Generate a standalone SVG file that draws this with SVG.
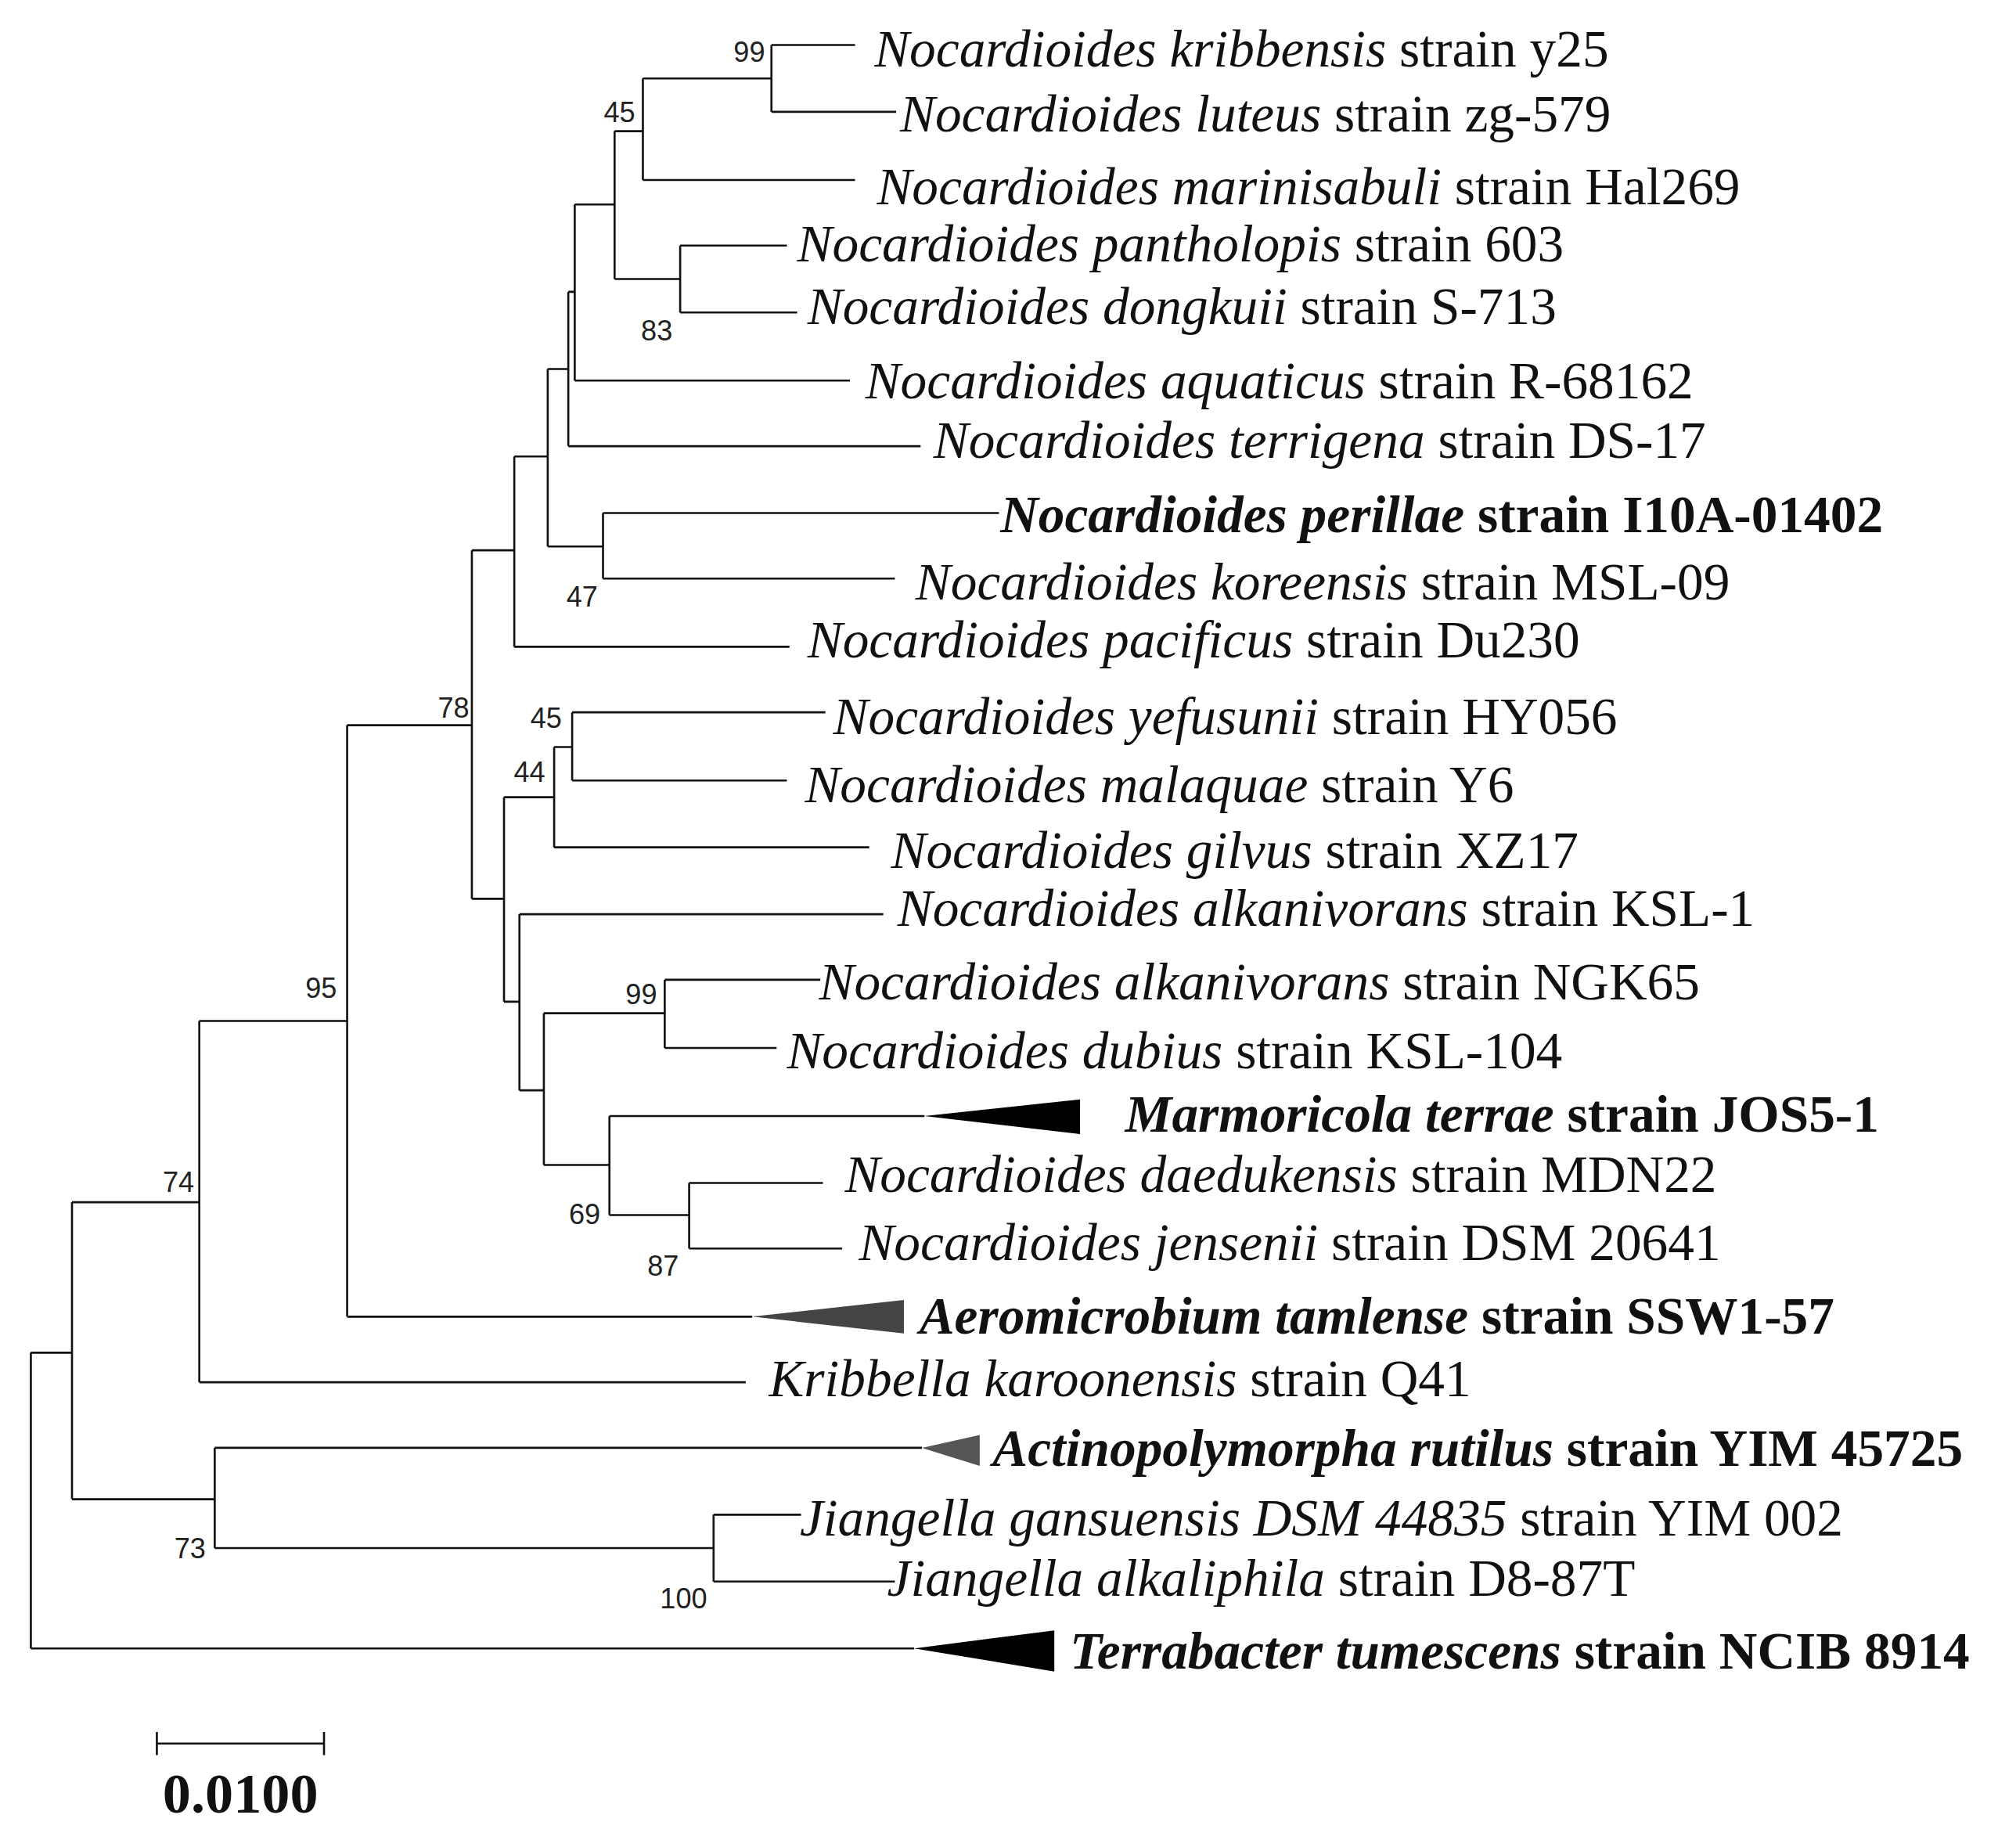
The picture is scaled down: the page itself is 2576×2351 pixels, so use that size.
<svg xmlns="http://www.w3.org/2000/svg" width="2576" height="2351" viewBox="0 0 2576 2351">
<style>
.e{fill:none;stroke:#111;stroke-width:1.6}
.t{font-family:"Liberation Serif",serif;font-size:41px;fill:#111}
.b{font-weight:bold}
.i{font-style:italic}
.bs{font-family:"Liberation Sans",Arial,sans-serif;font-size:22px;fill:#222}
</style>
<rect width="2576" height="2351" fill="#fff"/>
<g transform="scale(1.6429)">
<g id="edges">
<path class="e" d="M600 35V87M600 35H665M600 87H697"/>
<path class="e" d="M500 61V140M500 61H600M500 140H665"/>
<path class="e" d="M529 191V243M529 191H612M529 243H620"/>
<path class="e" d="M478 102V217M478 102H500M478 217H529"/>
<path class="e" d="M447 159V296M447 159H478M447 296H661"/>
<path class="e" d="M442 227V347M442 227H447M442 347H716"/>
<path class="e" d="M469 399V450M469 399H777M469 450H696"/>
<path class="e" d="M426 287V425M426 287H442M426 425H469"/>
<path class="e" d="M400 355V503M400 355H426M400 503H614"/>
<path class="e" d="M445 554V607M445 554H642M445 607H612"/>
<path class="e" d="M431 581V659M431 581H445M431 659H676"/>
<path class="e" d="M517 762V815M517 762H638M517 815H604"/>
<path class="e" d="M536 920V971M536 920H640M536 971H655"/>
<path class="e" d="M474 868V945M474 868H719M474 945H536"/>
<path class="e" d="M423 788V906M423 788H517M423 906H474"/>
<path class="e" d="M404 711V848M404 711H687M404 848H423"/>
<path class="e" d="M392 620V779M392 620H431M392 779H404"/>
<path class="e" d="M367 428V699M367 428H400M367 699H392"/>
<path class="e" d="M270 564V1024M270 564H367M270 1024H585"/>
<path class="e" d="M155 794V1075M155 794H270M155 1075H580"/>
<path class="e" d="M555 1178V1230M555 1178H623M555 1230H696"/>
<path class="e" d="M167 1126V1204M167 1126H717M167 1204H555"/>
<path class="e" d="M56 935V1166M56 935H155M56 1166H167"/>
<path class="e" d="M24 1052V1282M24 1052H56M24 1282H711"/>
<polygon points="719,868 840,855 840,882" fill="#000"/>
<polygon points="585,1024 703,1011 703,1037" fill="#444"/>
<polygon points="717,1126 762,1116 762,1140" fill="#555"/>
<polygon points="711,1282 820,1268 820,1300" fill="#000"/>
<path class="e" d="M122 1356H252M122 1347V1365M252 1347V1365"/>
</g>
<g id="support">
<text class="bs" x="595" y="48" text-anchor="end">99</text>
<text class="bs" x="494" y="95" text-anchor="end">45</text>
<text class="bs" x="523" y="265" text-anchor="end">83</text>
<text class="bs" x="465" y="472" text-anchor="end">47</text>
<text class="bs" x="365" y="558" text-anchor="end">78</text>
<text class="bs" x="437" y="566" text-anchor="end">45</text>
<text class="bs" x="424" y="608" text-anchor="end">44</text>
<text class="bs" x="262" y="776" text-anchor="end">95</text>
<text class="bs" x="511" y="781" text-anchor="end">99</text>
<text class="bs" x="467" y="952" text-anchor="end">69</text>
<text class="bs" x="528" y="992" text-anchor="end">87</text>
<text class="bs" x="151" y="927" text-anchor="end">74</text>
<text class="bs" x="160" y="1212" text-anchor="end">73</text>
<text class="bs" x="550" y="1251" text-anchor="end">100</text>
</g>
<g id="leaves">
<text class="t" x="680" y="52"><tspan class="i">Nocardioides kribbensis</tspan> strain y25</text>
<text class="t" x="700" y="102"><tspan class="i">Nocardioides luteus</tspan> strain zg-579</text>
<text class="t" x="682" y="159"><tspan class="i">Nocardioides marinisabuli</tspan> strain Hal269</text>
<text class="t" x="620" y="203"><tspan class="i">Nocardioides pantholopis</tspan> strain 603</text>
<text class="t" x="628" y="252"><tspan class="i">Nocardioides dongkuii</tspan> strain S-713</text>
<text class="t" x="673" y="310"><tspan class="i">Nocardioides aquaticus</tspan> strain R-68162</text>
<text class="t" x="726" y="356"><tspan class="i">Nocardioides terrigena</tspan> strain DS-17</text>
<text class="t b" x="778" y="414"><tspan class="i">Nocardioides perillae</tspan> strain I10A-01402</text>
<text class="t" x="712" y="466"><tspan class="i">Nocardioides koreensis</tspan> strain MSL-09</text>
<text class="t" x="628" y="511"><tspan class="i">Nocardioides pacificus</tspan> strain Du230</text>
<text class="t" x="648" y="571"><tspan class="i">Nocardioides yefusunii</tspan>  strain HY056</text>
<text class="t" x="626" y="624"><tspan class="i">Nocardioides malaquae</tspan>  strain Y6</text>
<text class="t" x="693" y="675"><tspan class="i">Nocardioides gilvus</tspan>  strain XZ17</text>
<text class="t" x="698" y="720"><tspan class="i">Nocardioides alkanivorans</tspan>  strain KSL-1</text>
<text class="t" x="637" y="777"><tspan class="i">Nocardioides alkanivorans</tspan>  strain NGK65</text>
<text class="t" x="612" y="831"><tspan class="i">Nocardioides dubius</tspan> strain KSL-104</text>
<text class="t b" x="875" y="880"><tspan class="i">Marmoricola terrae</tspan> strain JOS5-1</text>
<text class="t" x="657" y="927"><tspan class="i">Nocardioides daedukensis</tspan> strain MDN22</text>
<text class="t" x="668" y="980"><tspan class="i">Nocardioides jensenii</tspan> strain DSM 20641</text>
<text class="t b" x="715" y="1037"><tspan class="i">Aeromicrobium tamlense</tspan> strain SSW1-57</text>
<text class="t" x="598" y="1086"><tspan class="i">Kribbella karoonensis</tspan> strain Q41</text>
<text class="t b" x="772" y="1140"><tspan class="i">Actinopolymorpha rutilus</tspan> strain YIM 45725</text>
<text class="t" x="622" y="1194"><tspan class="i">Jiangella gansuensis DSM 44835</tspan> strain YIM 002</text>
<text class="t" x="690" y="1241"><tspan class="i">Jiangella alkaliphila</tspan> strain D8-87T</text>
<text class="t b" x="832" y="1298"><tspan class="i">Terrabacter tumescens</tspan> strain NCIB 8914</text>
<text class="t b" x="187" y="1410" text-anchor="middle" style="font-size:44px">0.0100</text>
</g>
</g>
</svg>
